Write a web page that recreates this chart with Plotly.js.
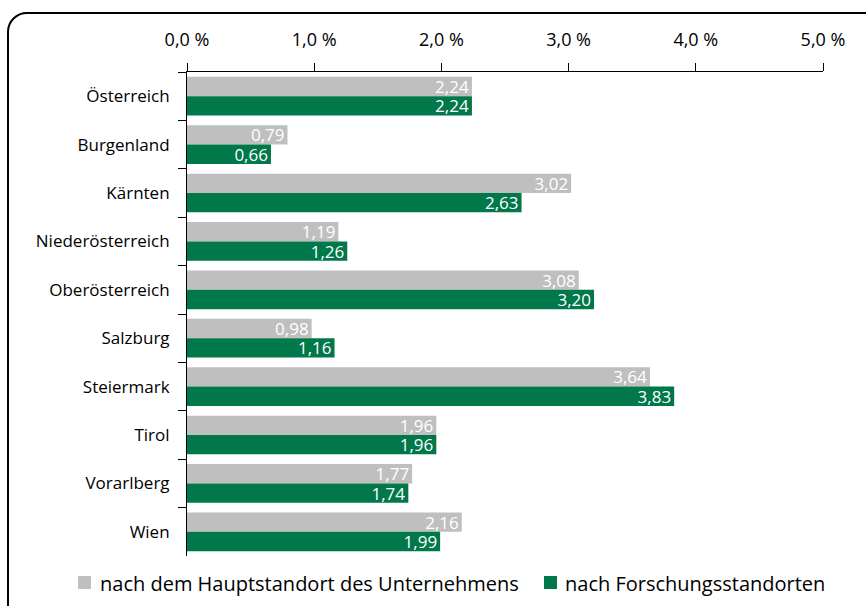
<!DOCTYPE html>
<html>
<head>
<meta charset="utf-8">
<script src="https://cdn.plot.ly/plotly-3.0.1.min.js"></script>
<style>
html,body{margin:0;padding:0;background:#fff;}
#wrap{position:relative;width:866px;height:606px;overflow:hidden;}
#frame{position:absolute;left:7px;top:12px;width:880px;height:620px;border:2px solid #000;border-radius:20px;box-sizing:border-box;pointer-events:none;}
#chart{position:absolute;left:0;top:0;width:866px;height:606px;}
</style>
</head>
<body>
<div id="wrap">
<div id="chart"></div>
<div id="frame"></div>
</div>
<script>
const categories = ["Österreich","Burgenland","Kärnten","Niederösterreich","Oberösterreich","Salzburg","Steiermark","Tirol","Vorarlberg","Wien"];
const hauptstandort = [2.24,0.79,3.02,1.19,3.08,0.98,3.64,1.96,1.77,2.16];
const forschung = [2.24,0.66,2.63,1.26,3.20,1.16,3.83,1.96,1.74,1.99];
const seriesNames = ["nach dem Hauptstandort des Unternehmens","nach Forschungsstandorten"];
const seriesColors = ['#BFBFBF', '#00784A'];
const tickValues = [0,1,2,3,4,5];
const tickLabels = ["0,0 %","1,0 %","2,0 %","3,0 %","4,0 %","5,0 %"];

const FONT = "'Open Sans', sans-serif";
const fmt = v => v.toFixed(2).replace('.', ',');

const traces = [
  {type:'bar', orientation:'h', name:seriesNames[0], y:categories, x:hauptstandort,
   marker:{color:seriesColors[0]}, text:hauptstandort.map(fmt), textposition:'inside', constraintext:'none',
   insidetextanchor:'end', textfont:{color:'#ffffff', size:17, family:FONT}, hoverinfo:'x+y'},
  {type:'bar', orientation:'h', name:seriesNames[1], y:categories, x:forschung,
   marker:{color:seriesColors[1]}, text:forschung.map(fmt), textposition:'inside', constraintext:'none',
   insidetextanchor:'end', textfont:{color:'#ffffff', size:17, family:FONT}, hoverinfo:'x+y'}
];

// manual legend (pixel layout converted to paper coordinates)
const plotL = 187, plotW = 636, plotB = 556, plotH = 484;
const px = p => (p - plotL) / plotW;
const py = p => (plotB - p) / plotH;
const legendItems = [{sq:78, tx:98}, {sq:544, tx:563}];
const shapes = legendItems.map((it, i) => ({
  type:'rect', xref:'paper', yref:'paper',
  x0:px(it.sq), x1:px(it.sq + 13), y0:py(589), y1:py(576),
  fillcolor:seriesColors[i], line:{width:0}
}));
const annotations = legendItems.map((it, i) => ({
  xref:'paper', yref:'paper', x:px(it.tx), y:py(583), xanchor:'left', yanchor:'middle',
  text:seriesNames[i], showarrow:false, font:{size:20, family:FONT, color:'#000'}
}));

const layout = {
  width:866, height:606,
  margin:{l:187, r:43, t:72, b:50},
  paper_bgcolor:'rgba(0,0,0,0)', plot_bgcolor:'rgba(0,0,0,0)',
  font:{family:FONT, size:17, color:'#000'},
  barmode:'group', bargap:0.2, bargroupgap:0,
  showlegend:false,
  shapes:shapes, annotations:annotations,
  xaxis:{side:'top', range:[0,5], tickvals:tickValues, ticktext:tickLabels, showgrid:false, zeroline:false,
    showline:true, linecolor:'#000', linewidth:1, ticks:'outside', ticklen:8, tickcolor:'#000', tickfont:{size:18}, ticklabelstandoff:10},
  yaxis:{autorange:'reversed', showgrid:false, zeroline:false, showline:true, linecolor:'#000', linewidth:1,
    ticks:'outside', tickson:'boundaries', ticklen:8, tickcolor:'#000', tickfont:{size:17}, ticklabelstandoff:13}
};

Plotly.newPlot('chart', traces, layout, {displayModeBar:false, staticPlot:true});
</script>
</body>
</html>
